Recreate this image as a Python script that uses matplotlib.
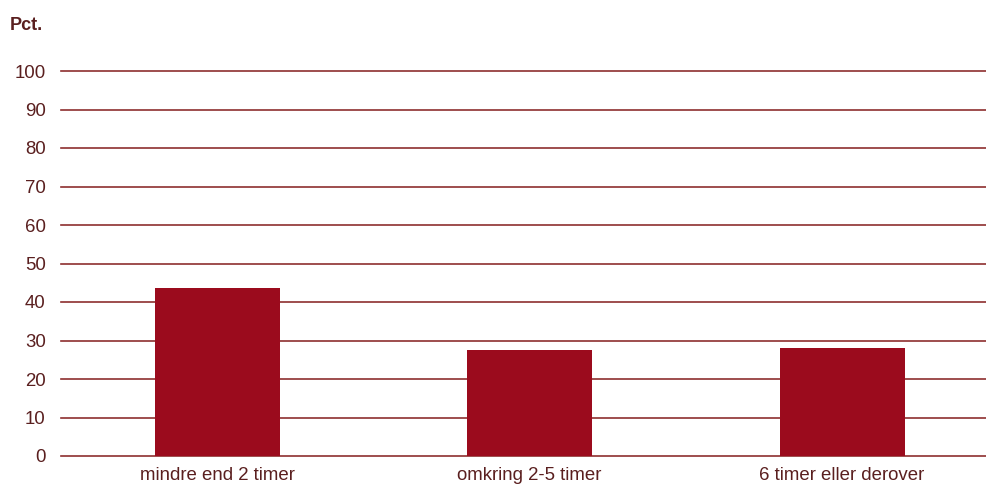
import numpy as np
import matplotlib.pyplot as plt

categories = ["mindre end 2 timer", "omkring 2-5 timer", "6 timer eller derover"]
values = [43.7, 27.6, 28.1]
yticks = np.arange(0, 101, 10)

bar_color = "#9B0B1D"
grid_color = "#8E2F2F"
text_color = "#5A1F1F"

plt.rcParams["font.family"] = ["Liberation Sans", "DejaVu Sans"]

fig = plt.figure(figsize=(9.87, 4.91), dpi=100)
ax = fig.add_axes([61 / 987, 1 - 456 / 491, 926 / 987, 385 / 491])

x = np.arange(len(categories))
ax.bar(x, values, width=0.4, color=bar_color, zorder=3)

ax.set_ylim(0, 100)
ax.set_xlim(-0.5, 2.464)
ax.set_yticks(yticks)
ax.set_xticks(x)
ax.set_xticklabels(categories)
ax.grid(True, axis="y", color=grid_color, linewidth=1.2, zorder=0)
for gl in ax.get_ygridlines():
    gl.set_clip_on(False)
ax.tick_params(axis="both", length=0, colors=text_color, labelsize=13.4)
ax.tick_params(axis="y", pad=11)
ax.tick_params(axis="x", pad=8)
for s in ax.spines.values():
    s.set_visible(False)

fig.text(10 / 987, 1 - 25 / 491, "Pct.", fontsize=13, fontweight="bold",
         color=text_color, va="center", ha="left")

fig.savefig("out.png", dpi=100)
